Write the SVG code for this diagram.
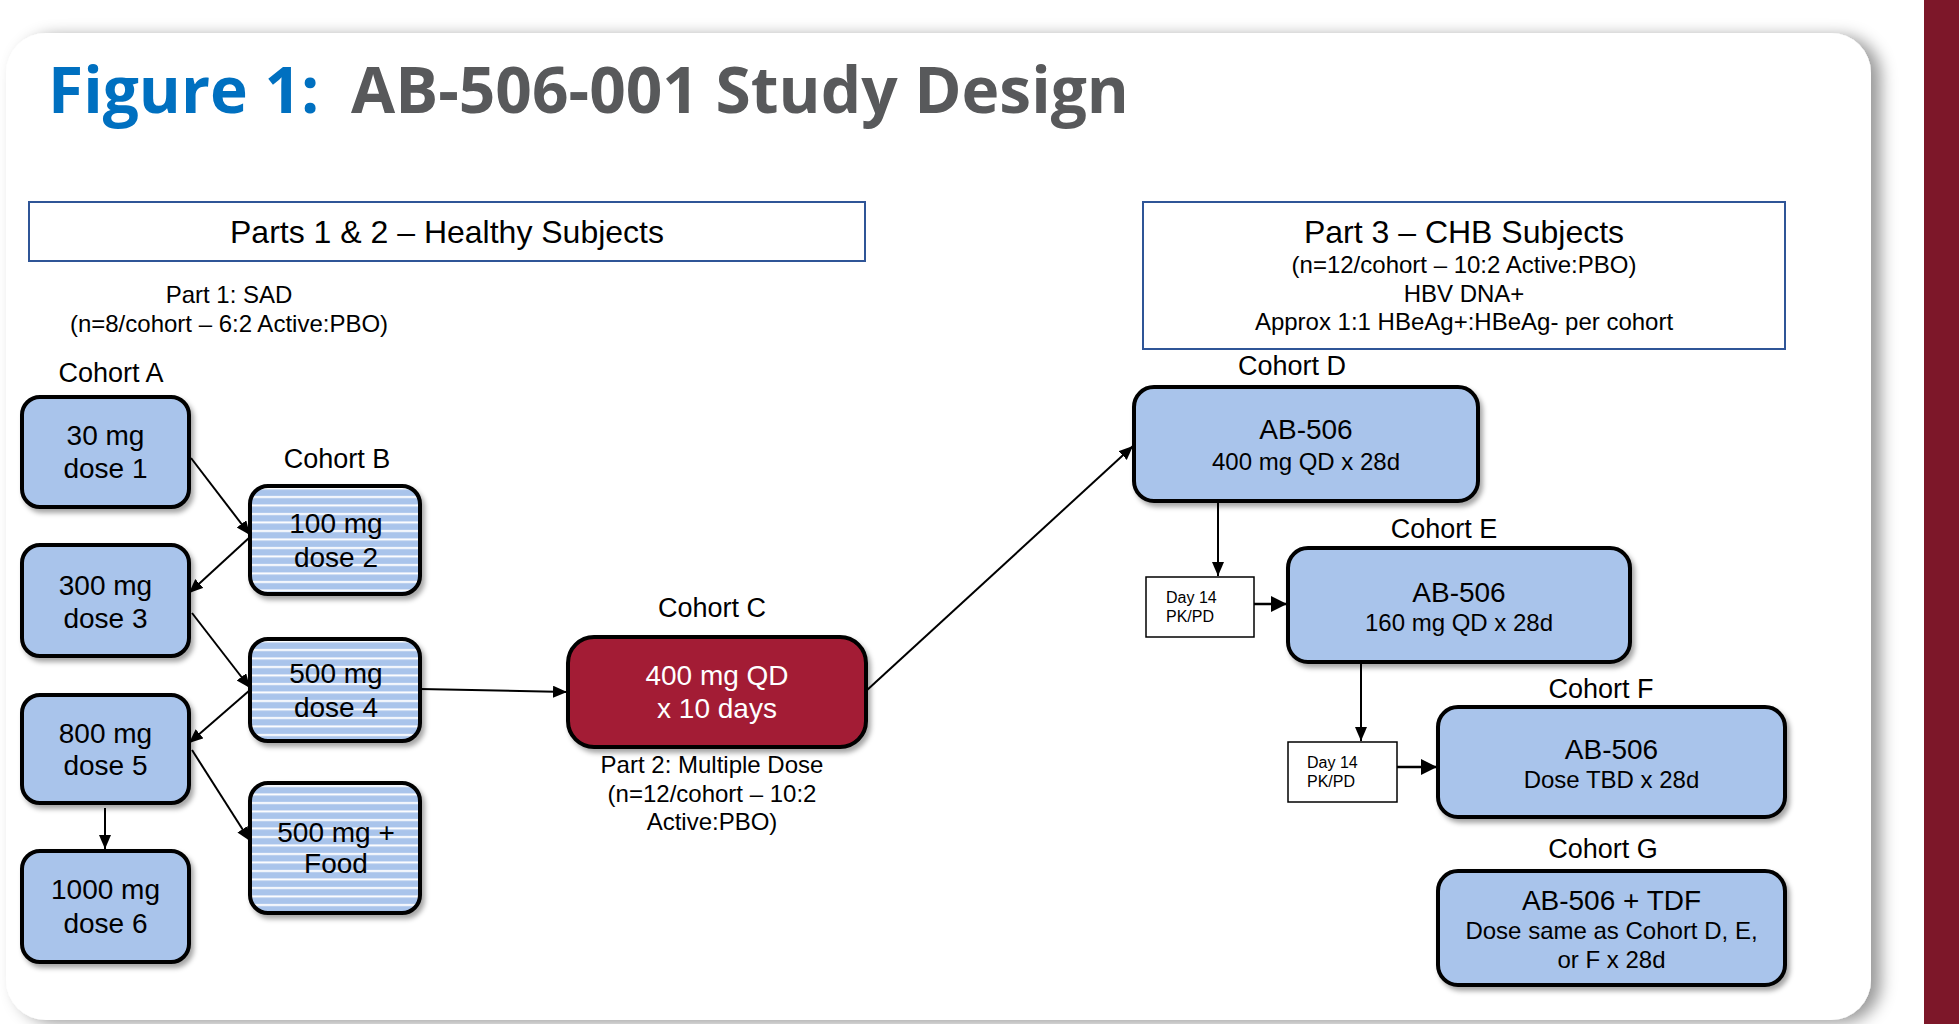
<svg xmlns="http://www.w3.org/2000/svg" width="1959" height="1024" viewBox="0 0 1959 1024">
<defs>
<style>
text{font-family:"Liberation Sans",Arial,sans-serif;fill:#000}
.t28{font-size:28px;text-anchor:middle}
.t27{font-size:27px;text-anchor:middle}
.t24{font-size:24px;text-anchor:middle}
.t32{font-size:32px;text-anchor:middle}
.t16{font-size:16px}
.box{fill:#A9C4EB;stroke:#000;stroke-width:4;filter:url(#sh)}
.hbox{fill:url(#stripes);stroke:#000;stroke-width:4;filter:url(#sh)}
.hdr{fill:#fff;stroke:#2F5597;stroke-width:2}
.pk{fill:#fff;stroke:#000;stroke-width:1.5}
.conn line{stroke:#000;stroke-width:2;fill:none}
.conn line.thick{stroke-width:2.6}
</style>
<pattern id="stripes" patternUnits="userSpaceOnUse" width="20" height="8.5">
<rect width="20" height="8.5" fill="#A9C4EB"/>
<rect y="3" width="20" height="2" fill="#fff"/>
</pattern>
<filter id="sh" x="-10%" y="-10%" width="125%" height="130%">
<feDropShadow dx="3" dy="4" stdDeviation="2.5" flood-color="#000" flood-opacity="0.35"/>
</filter>
<filter id="cardsh" x="-5%" y="-5%" width="110%" height="110%">
<feDropShadow dx="10" dy="3" stdDeviation="8" flood-color="#000" flood-opacity="0.4"/>
</filter>
<marker id="ah" markerUnits="userSpaceOnUse" markerWidth="16" markerHeight="14" refX="14" refY="6" orient="auto">
<path d="M0,0 L14,6 L0,12 Z" fill="#000"/>
</marker>
<marker id="ahb" markerUnits="userSpaceOnUse" markerWidth="18" markerHeight="18" refX="16" refY="8" orient="auto">
<path d="M0,0 L16,8 L0,16 Z" fill="#000"/>
</marker>
</defs>

<rect width="1959" height="1024" fill="#fff"/>
<rect x="1924" y="0" width="35" height="1024" fill="#7D1729"/>
<rect x="6" y="33" width="1865" height="987" rx="40" fill="#fff" filter="url(#cardsh)"/>

<g id="title">
<text x="48" y="113" style="font-family:'Open Sans',sans-serif;font-weight:700;font-size:64px"><tspan fill="#0070C0">Figure 1:</tspan><tspan x="351" fill="#58595B">AB-506-001 Study Design</tspan></text>
</g>

<g id="header-parts12">
<rect class="hdr" x="29" y="202" width="836" height="59"/>
<text class="t32" x="447" y="243">Parts 1 &amp; 2 – Healthy Subjects</text>
</g>
<g id="part1-label">
<text class="t24" x="229" y="303">Part 1: SAD</text>
<text class="t24" x="229" y="332">(n=8/cohort – 6:2 Active:PBO)</text>
</g>

<g id="header-part3">
<rect class="hdr" x="1143" y="202" width="642" height="147"/>
<text class="t32" x="1464" y="243">Part 3 – CHB Subjects</text>
<text class="t24" x="1464" y="273">(n=12/cohort – 10:2 Active:PBO)</text>
<text class="t24" x="1464" y="302">HBV DNA+</text>
<text class="t24" x="1464" y="330">Approx 1:1 HBeAg+:HBeAg- per cohort</text>
</g>

<g id="connectors" class="conn">
<line x1="191" y1="458" x2="250" y2="535" marker-end="url(#ah)"/>
<line x1="250" y1="537" x2="189" y2="593" marker-end="url(#ah)"/>
<line x1="192" y1="613" x2="250" y2="688" marker-end="url(#ah)"/>
<line x1="250" y1="690" x2="189" y2="743" marker-end="url(#ah)"/>
<line x1="192" y1="750" x2="250" y2="841" marker-end="url(#ah)"/>
<line x1="105" y1="808" x2="105" y2="849" marker-end="url(#ah)"/>
<line x1="420" y1="689" x2="567" y2="692" marker-end="url(#ah)"/>
<line x1="866" y1="691" x2="1133" y2="446" marker-end="url(#ah)"/>
<line x1="1218" y1="501" x2="1218" y2="576" marker-end="url(#ah)"/>
<line class="thick" x1="1254" y1="604" x2="1287" y2="604" marker-end="url(#ahb)"/>
<line x1="1361" y1="662" x2="1361" y2="741" marker-end="url(#ah)"/>
<line class="thick" x1="1397" y1="767" x2="1437" y2="767" marker-end="url(#ahb)"/>
</g>

<g id="cohortA-label"><text class="t27" x="111" y="382">Cohort A</text></g>
<g id="cohortB-label"><text class="t27" x="337" y="468">Cohort B</text></g>
<g id="cohortC-label"><text class="t27" x="712" y="617">Cohort C</text></g>
<g id="cohortD-label"><text class="t27" x="1292" y="375">Cohort D</text></g>
<g id="cohortE-label"><text class="t27" x="1444" y="538">Cohort E</text></g>
<g id="cohortF-label"><text class="t27" x="1601" y="698">Cohort F</text></g>
<g id="cohortG-label"><text class="t27" x="1603" y="858">Cohort G</text></g>

<g id="dose1">
<rect class="box" x="22" y="397" width="167" height="110" rx="18"/>
<text class="t28" x="105.5" y="445">30 mg</text>
<text class="t28" x="105.5" y="478">dose 1</text>
</g>
<g id="dose3">
<rect class="box" x="22" y="545" width="167" height="111" rx="18"/>
<text class="t28" x="105.5" y="595">300 mg</text>
<text class="t28" x="105.5" y="628">dose 3</text>
</g>
<g id="dose5">
<rect class="box" x="22" y="695" width="167" height="108" rx="18"/>
<text class="t28" x="105.5" y="743">800 mg</text>
<text class="t28" x="105.5" y="775">dose 5</text>
</g>
<g id="dose6">
<rect class="box" x="22" y="851" width="167" height="111" rx="18"/>
<text class="t28" x="105.5" y="899">1000 mg</text>
<text class="t28" x="105.5" y="933">dose 6</text>
</g>

<g id="dose2">
<rect class="hbox" x="250" y="486" width="170" height="108" rx="18"/>
<text class="t28" x="336" y="533">100 mg</text>
<text class="t28" x="336" y="567">dose 2</text>
</g>
<g id="dose4">
<rect class="hbox" x="250" y="639" width="170" height="102" rx="18"/>
<text class="t28" x="336" y="683">500 mg</text>
<text class="t28" x="336" y="717">dose 4</text>
</g>
<g id="food">
<rect class="hbox" x="250" y="783" width="170" height="130" rx="18"/>
<text class="t28" x="336" y="842">500 mg +</text>
<text class="t28" x="336" y="873">Food</text>
</g>

<g id="cohortC">
<rect x="568" y="637" width="298" height="110" rx="26" fill="#A31E35" stroke="#000" stroke-width="4" filter="url(#sh)"/>
<text class="t28" x="717" y="685" style="fill:#fff">400 mg QD</text>
<text class="t28" x="717" y="718" style="fill:#fff">x 10 days</text>
</g>
<g id="part2-label">
<text class="t24" x="712" y="773">Part 2: Multiple Dose</text>
<text class="t24" x="712" y="802">(n=12/cohort – 10:2</text>
<text class="t24" x="712" y="830">Active:PBO)</text>
</g>

<g id="cohortD">
<rect class="box" x="1134" y="387" width="344" height="114" rx="20"/>
<text class="t28" x="1306" y="439">AB-506</text>
<text class="t24" x="1306" y="470">400 mg QD x 28d</text>
</g>
<g id="pkpd1">
<rect class="pk" x="1146" y="577" width="108" height="60"/>
<text class="t16" x="1166" y="603">Day 14</text>
<text class="t16" x="1166" y="622">PK/PD</text>
</g>
<g id="cohortE">
<rect class="box" x="1288" y="548" width="342" height="114" rx="20"/>
<text class="t28" x="1459" y="602">AB-506</text>
<text class="t24" x="1459" y="631">160 mg QD x 28d</text>
</g>
<g id="pkpd2">
<rect class="pk" x="1288" y="742" width="109" height="60"/>
<text class="t16" x="1307" y="768">Day 14</text>
<text class="t16" x="1307" y="787">PK/PD</text>
</g>
<g id="cohortF">
<rect class="box" x="1438" y="707" width="347" height="110" rx="20"/>
<text class="t28" x="1611.5" y="759">AB-506</text>
<text class="t24" x="1611.5" y="788">Dose TBD x 28d</text>
</g>
<g id="cohortG">
<rect class="box" x="1438" y="871" width="347" height="114" rx="20"/>
<text class="t28" x="1611.5" y="910">AB-506 + TDF</text>
<text class="t24" x="1611.5" y="939">Dose same as Cohort D, E,</text>
<text class="t24" x="1611.5" y="968">or F x 28d</text>
</g>
</svg>
